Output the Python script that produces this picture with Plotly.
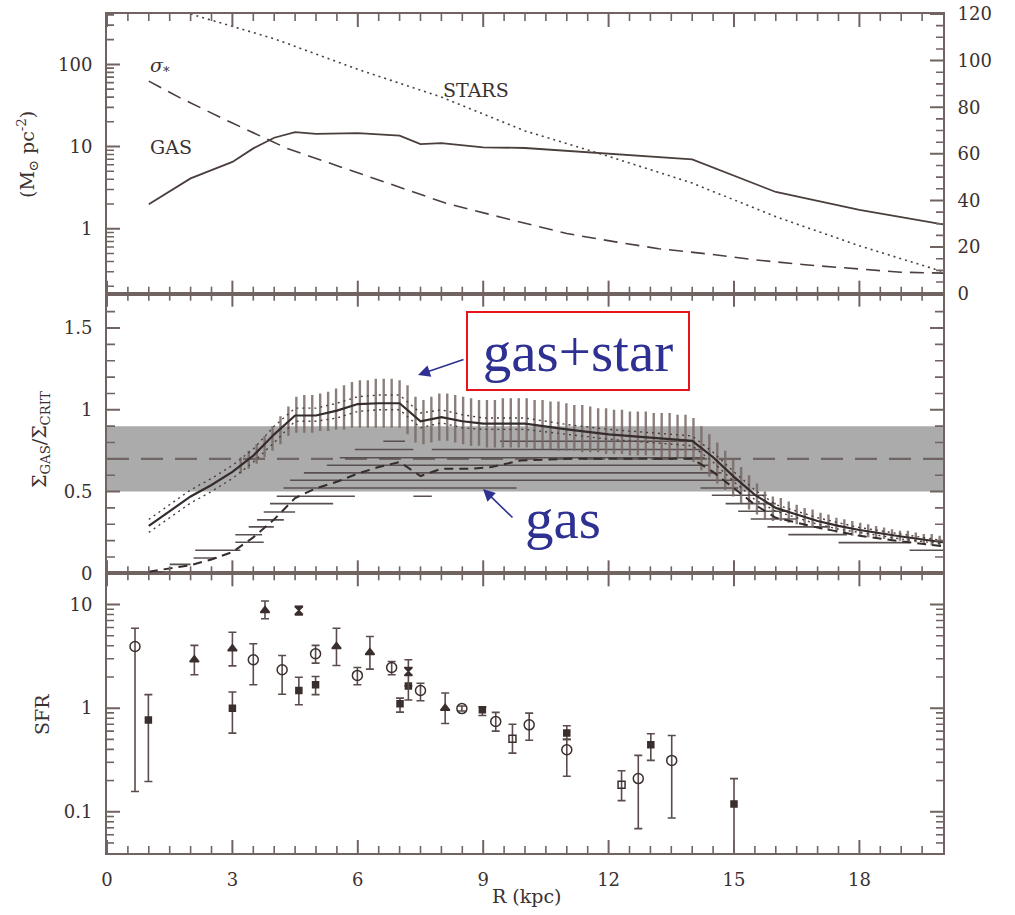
import plotly.graph_objects as go
import numpy as np

# ---------------- top panel ----------------
# gas surface density (Msun pc^-2, left log axis)
gas_r = [1.0, 2.0, 3.0, 3.5, 4.0, 4.5, 5.0, 6.0, 7.0, 7.5, 8.0, 9.0, 10.0, 12.0, 14.0, 16.0, 18.0, 20.0]
gas_sd = [1.98, 4.1, 6.5, 9.5, 12.8, 15.0, 14.3, 14.6, 13.6, 10.7, 11.0, 9.8, 9.6, 8.2, 7.0, 2.8, 1.7, 1.13]
# stellar surface density (left log axis)
stars_r = [2.0, 4.0, 6.0, 8.0, 10.0, 12.0, 14.0, 16.0, 18.0, 20.0]
stars_sd = [410, 205, 87, 40, 15.5, 7.6, 3.6, 1.4, 0.62, 0.30]
# stellar velocity dispersion (km/s, right linear axis)
sigma_r = [1.0, 1.75, 3.0, 4.3, 5.57, 6.85, 8.13, 9.4, 11.0, 12.2, 13.2, 14.35, 15.5, 16.7, 17.9, 19.0, 20.0]
sigma_v = [91.2, 84.0, 73.2, 62.4, 54.5, 46.6, 38.7, 32.9, 25.8, 22.1, 19.3, 17.1, 14.5, 12.4, 10.7, 9.2, 8.8]

# ---------------- middle panel ----------------
# gas+star stability ratio with its dotted envelope
q_r = [1.0, 1.5, 2.0, 2.5, 3.0, 3.5, 4.0, 4.5, 5.0, 5.5, 6.0, 6.5, 7.0, 7.5, 8.0, 8.5, 9.0, 10.0,
       11.0, 12.0, 13.0, 14.0, 14.5, 15.0, 15.5, 16.0, 16.5, 17.0, 17.5, 18.0, 19.0, 20.0]
q_tot = [0.29, 0.38, 0.47, 0.54, 0.62, 0.72, 0.85, 0.965, 0.965, 0.995, 1.035, 1.04, 1.04, 0.93, 0.955, 0.93,
         0.915, 0.915, 0.88, 0.85, 0.83, 0.81, 0.71, 0.59, 0.48, 0.40, 0.36, 0.32, 0.29, 0.265, 0.225, 0.19]
q_tot_up = [0.33, 0.42, 0.51, 0.58, 0.66, 0.76, 0.90, 1.01, 1.01, 1.04, 1.08, 1.09, 1.09, 0.98, 1.00, 0.97,
            0.95, 0.95, 0.91, 0.88, 0.86, 0.84, 0.74, 0.62, 0.51, 0.42, 0.38, 0.34, 0.31, 0.28, 0.24, 0.20]
q_tot_dn = [0.25, 0.34, 0.43, 0.50, 0.58, 0.68, 0.80, 0.93, 0.93, 0.95, 0.99, 1.00, 1.00, 0.89, 0.92, 0.89,
            0.88, 0.88, 0.85, 0.82, 0.80, 0.78, 0.68, 0.56, 0.45, 0.38, 0.34, 0.30, 0.27, 0.25, 0.21, 0.18]
# gas-only stability ratio
qg_r = [1.0, 1.5, 2.0, 2.5, 3.0, 3.5, 4.0, 4.5, 5.0, 5.5, 6.0, 6.5, 7.0, 7.5, 8.0, 8.7, 9.2, 9.9,
        11.0, 12.0, 13.0, 14.0, 14.5, 15.0, 15.5, 16.0, 17.0, 18.0, 19.0, 20.0]
qg = [0.01, 0.03, 0.05, 0.085, 0.13, 0.22, 0.33, 0.46, 0.52, 0.56, 0.61, 0.65, 0.68, 0.595, 0.64, 0.64, 0.65, 0.69,
      0.70, 0.70, 0.70, 0.70, 0.62, 0.52, 0.42, 0.34, 0.28, 0.23, 0.195, 0.165]
# vertical uncertainty bars on the gas+star ratio
bar_r = [3.20, 3.39, 3.58, 3.77, 3.96, 4.15, 4.34, 4.53, 4.72, 4.91, 5.10, 5.29, 5.48, 5.67, 5.86, 6.05,
         6.24, 6.43, 6.62, 6.81, 7.00, 7.19, 7.38, 7.57, 7.76, 7.95, 8.14, 8.33, 8.52, 8.71, 8.90, 9.09,
         9.28, 9.47, 9.66, 9.85, 10.04, 10.23, 10.42, 10.61, 10.80, 10.99, 11.18, 11.37, 11.56, 11.75,
         11.94, 12.13, 12.32, 12.51, 12.70, 12.89, 13.08, 13.27, 13.46, 13.65, 13.84, 14.03, 14.22, 14.41,
         14.60, 14.79, 14.98, 15.17, 15.36, 15.55, 15.74, 15.93, 16.12, 16.31, 16.50, 16.69, 16.88, 17.07,
         17.26, 17.45, 17.64, 17.83, 18.02, 18.21, 18.40, 18.59, 18.78, 18.97, 19.16, 19.35, 19.54, 19.73, 19.92]
bar_top = [0.71, 0.75, 0.79, 0.84, 0.90, 0.96, 1.02, 1.08, 1.09, 1.09, 1.10, 1.11, 1.13, 1.15, 1.17, 1.18,
           1.18, 1.19, 1.19, 1.19, 1.18, 1.15, 1.08, 1.06, 1.08, 1.10, 1.10, 1.09, 1.08, 1.07, 1.06, 1.06,
           1.06, 1.07, 1.07, 1.07, 1.07, 1.06, 1.06, 1.05, 1.05, 1.04, 1.03, 1.03, 1.02, 1.01,
           1.01, 1.00, 1.00, 0.99, 0.99, 0.99, 0.98, 0.98, 0.98, 0.97, 0.97, 0.95, 0.90, 0.85,
           0.80, 0.75, 0.70, 0.65, 0.60, 0.55, 0.50, 0.47, 0.46, 0.44, 0.42, 0.40, 0.39, 0.37,
           0.36, 0.34, 0.33, 0.32, 0.31, 0.30, 0.29, 0.28, 0.27, 0.26, 0.26, 0.25, 0.24, 0.24, 0.23]
bar_bot = [0.61, 0.64, 0.67, 0.71, 0.75, 0.79, 0.84, 0.86, 0.86, 0.86, 0.87, 0.87, 0.88, 0.88, 0.89, 0.89,
           0.89, 0.89, 0.89, 0.89, 0.89, 0.85, 0.80, 0.79, 0.80, 0.81, 0.81, 0.80, 0.79, 0.78, 0.78, 0.77,
           0.77, 0.77, 0.77, 0.77, 0.77, 0.76, 0.76, 0.76, 0.75, 0.75, 0.75, 0.74, 0.74, 0.74,
           0.73, 0.73, 0.73, 0.72, 0.72, 0.72, 0.72, 0.71, 0.71, 0.71, 0.70, 0.68, 0.63, 0.59,
           0.55, 0.51, 0.47, 0.43, 0.39, 0.36, 0.33, 0.32, 0.32, 0.31, 0.30, 0.29, 0.28, 0.27,
           0.26, 0.25, 0.24, 0.23, 0.23, 0.22, 0.22, 0.21, 0.21, 0.20, 0.19, 0.19, 0.18, 0.17, 0.17]
# horizontal (radial-bin) bars on the gas ratio: level, start radius, end radius
seg_q = [0.01, 0.055, 0.094, 0.141, 0.19, 0.236, 0.284, 0.327, 0.375, 0.426, 0.471, 0.471, 0.522, 0.569,
         0.614, 0.661, 0.707, 0.757, 0.757, 0.808, 0.808, 0.522, 0.477, 0.426, 0.38, 0.332, 0.284,
         0.237, 0.188, 0.141]
seg_r0 = [1.0, 1.5, 2.07, 2.11, 3.07, 3.07, 3.39, 3.59, 3.75, 3.9, 4.06, 7.33, 4.22, 4.38,
          4.71, 5.26, 5.57, 5.93, 7.77, 6.61, 9.4, 14.2, 14.47, 14.8, 15.1, 15.4, 15.8,
          16.3, 17.5, 19.2]
seg_r1 = [1.35, 2.0, 2.63, 3.19, 3.75, 3.71, 3.99, 4.23, 4.5, 5.41, 5.93, 7.77, 9.8, 15.1,
          14.7, 14.4, 14.3, 7.33, 14.2, 7.13, 14.07, 15.1, 15.78, 16.0, 16.3, 16.5, 17.3,
          17.7, 19.2, 20.0]
band_lo, band_mid, band_hi = 0.5, 0.7, 0.9

# ---------------- bottom panel: star formation rate ----------------
circ_r = [0.67, 3.5, 4.19, 4.99, 5.99, 6.81, 7.5, 8.49, 9.3, 10.1, 11.0, 12.71, 13.51]
circ_v = [3.94, 2.93, 2.35, 3.35, 2.07, 2.47, 1.48, 0.99, 0.744, 0.69, 0.397, 0.209, 0.313]
circ_hi = [5.9, 4.18, 3.22, 4.03, 2.47, 2.82, 1.74, 1.05, 0.91, 0.895, 0.5, 0.35, 0.545]
circ_lo = [0.157, 1.68, 1.36, 2.72, 1.68, 2.1, 1.18, 0.94, 0.6, 0.49, 0.22, 0.0687, 0.087]

sq_r = [0.99, 3.0, 4.59, 4.99, 7.01, 7.21, 8.98, 11.0, 13.01, 15.0]
sq_v = [0.77, 1.0, 1.48, 1.68, 1.1, 1.64, 0.965, 0.574, 0.443, 0.119]
sq_hi = [1.35, 1.43, 1.99, 2.02, 1.25, 1.64, 1.03, 0.676, 0.566, 0.209]
sq_lo = [0.196, 0.574, 1.08, 1.35, 0.915, 1.64, 0.85, 0.5, 0.313, 0.03]

osq_r = [9.7, 12.31]
osq_v = [0.507, 0.182]
osq_hi = [0.7, 0.249]
osq_lo = [0.368, 0.128]

tri_r = [2.09, 3.0, 3.78, 5.49, 6.29, 8.09]
tri_v = [2.93, 3.74, 8.75, 3.94, 3.44, 1.0]
tri_hi = [4.03, 5.4, 10.8, 5.9, 4.91, 1.4]
tri_lo = [2.1, 2.56, 7.28, 2.58, 2.38, 0.71]

hg_r = [4.59, 7.21]
hg_v = [8.75, 2.26]
hg_hi = [9.6, 2.93]
hg_lo = [7.95, 1.2]

# tick positions: labelled values and unlabelled intermediate marks
r_major = [0, 3, 6, 9, 12, 15, 18]
r_minor = [0.5, 1, 1.5, 2, 2.5, 3.5, 4, 4.5, 5, 5.5, 6.5, 7, 7.5, 8, 8.5, 9.5, 10, 10.5, 11, 11.5,
           12.5, 13, 13.5, 14, 14.5, 15.5, 16, 16.5, 17, 17.5, 18.5, 19, 19.5]
sfr_major = [0.1, 1, 10]
sfr_minor = [0.05, 0.06, 0.07, 0.08, 0.09, 0.2, 0.3, 0.4, 0.5, 0.6, 0.7, 0.8, 0.9, 2, 3, 4, 5, 6, 7, 8, 9]
q_major = [0, 0.5, 1, 1.5]
q_minor = [0.1, 0.2, 0.3, 0.4, 0.6, 0.7, 0.8, 0.9, 1.1, 1.2, 1.3, 1.4, 1.6, 1.7]
sd_major = [1, 10, 100]
sd_minor = [0.2, 0.3, 0.4, 0.5, 0.6, 0.7, 0.8, 0.9, 2, 3, 4, 5, 6, 7, 8, 9, 20, 30, 40, 50, 60, 70,
            80, 90, 200, 300, 400]
v_major = [0, 20, 40, 60, 80, 100, 120]
v_minor = [5, 10, 15, 25, 30, 35, 45, 50, 55, 65, 70, 75, 85, 90, 95, 105, 110, 115]


def fmt(v):
    return "{:g}".format(v)


def labels(major, prefix="", suffix=""):
    return dict(tickmode="array", tickvals=list(major),
                ticktext=[prefix + fmt(v) + suffix for v in major])


FONT = "DejaVu Serif"
FRAME = "#716361"
INK = "#3b3130"
LINE = "#4a3f3d"
BAR = "rgba(120,104,100,0.85)"
NAVY = "#2e3192"

fig = go.Figure()

# top panel traces
fig.add_trace(go.Scatter(x=stars_r, y=stars_sd, mode="lines", xaxis="x3", yaxis="y3",
                         line=dict(color=LINE, width=1.6, dash="2px,4px")))
fig.add_trace(go.Scatter(x=gas_r, y=gas_sd, mode="lines", xaxis="x3", yaxis="y3",
                         line=dict(color=LINE, width=1.8)))
fig.add_trace(go.Scatter(x=sigma_r, y=sigma_v, mode="lines", xaxis="x3", yaxis="y4",
                         line=dict(color=LINE, width=1.6, dash="14px,8px")))

# middle panel: shaded band and its centre line
fig.add_shape(type="rect", xref="x2", yref="y2", x0=0, x1=20, y0=band_lo, y1=band_hi,
              fillcolor="#ababab", line_width=0, layer="below")
fig.add_trace(go.Scatter(x=[0, 20], y=[band_mid, band_mid], mode="lines", xaxis="x2", yaxis="y2",
                         line=dict(color="#6f6564", width=2.2, dash="22px,12px")))

# horizontal bars of the gas ratio
hx, hy = [], []
for q, a, b in zip(seg_q, seg_r0, seg_r1):
    hx += [a, b, None]
    hy += [q, q, None]
fig.add_trace(go.Scatter(x=hx, y=hy, mode="lines", xaxis="x2", yaxis="y2",
                         line=dict(color="#585050", width=1.6)))

# vertical bars of the gas+star ratio
vx, vy = [], []
for r, t, b in zip(bar_r, bar_top, bar_bot):
    vx += [r, r, None]
    vy += [b, t, None]
fig.add_trace(go.Scatter(x=vx, y=vy, mode="lines", xaxis="x2", yaxis="y2",
                         line=dict(color=BAR, width=2.4)))

fig.add_trace(go.Scatter(x=q_r, y=q_tot_up, mode="lines", xaxis="x2", yaxis="y2",
                         line=dict(color=LINE, width=1.4, dash="2px,4px")))
fig.add_trace(go.Scatter(x=q_r, y=q_tot_dn, mode="lines", xaxis="x2", yaxis="y2",
                         line=dict(color=LINE, width=1.4, dash="2px,4px")))
fig.add_trace(go.Scatter(x=q_r, y=q_tot, mode="lines", xaxis="x2", yaxis="y2",
                         line=dict(color="#352c2b", width=2.2)))
fig.add_trace(go.Scatter(x=qg_r, y=qg, mode="lines", xaxis="x2", yaxis="y2",
                         line=dict(color="#352c2b", width=2.0, dash="9px,6px")))


# bottom panel: SFR points with asymmetric error bars
def sfr_trace(r, v, hi, lo, symbol, size):
    err = dict(type="data", symmetric=False,
               array=[h - c for h, c in zip(hi, v)],
               arrayminus=[c - l for c, l in zip(v, lo)],
               color="#5a4c4a", thickness=1.6, width=4)
    return go.Scatter(x=r, y=v, mode="markers", xaxis="x", yaxis="y", error_y=err,
                      marker=dict(symbol=symbol, size=size, color="#3a2f2e",
                                  line=dict(color="#3a2f2e", width=1.5)))


fig.add_trace(sfr_trace(circ_r, circ_v, circ_hi, circ_lo, "circle-open", 10))
fig.add_trace(sfr_trace(sq_r, sq_v, sq_hi, sq_lo, "square", 6))
fig.add_trace(sfr_trace(osq_r, osq_v, osq_hi, osq_lo, "square-open", 7))
fig.add_trace(sfr_trace(tri_r, tri_v, tri_hi, tri_lo, "triangle-up", 8))
fig.add_trace(sfr_trace(hg_r, hg_v, hg_hi, hg_lo, "hourglass", 8))

# inward tick marks, placed on each axis' own scale and sized in panel-domain units
PANEL_H, PANEL_W = 279.7, 836.0
MAJ_LEN, MIN_LEN = 13.0, 7.0
tick_shapes = []


def tick(xref, yref, x0, x1, y0, y1, width):
    tick_shapes.append(dict(type="line", xref=xref, yref=yref, x0=x0, x1=x1, y0=y0, y1=y1,
                            line=dict(color=FRAME, width=width), layer="above"))


for xa, ya in [("x", "y"), ("x2", "y2"), ("x3", "y3")]:
    for vals, ln, w in [(r_major, MAJ_LEN, 2.0), (r_minor, MIN_LEN, 1.6)]:
        f = ln / PANEL_H
        for v in vals:
            tick(xa, ya + " domain", v, v, 0, f, w)
            tick(xa, ya + " domain", v, v, 1 - f, 1, w)

for xa, ya, major, minor, mirrored in [("x", "y", sfr_major, sfr_minor, True),
                                       ("x2", "y2", q_major, q_minor, True),
                                       ("x3", "y3", sd_major, sd_minor, False)]:
    for vals, ln, w in [(major, MAJ_LEN, 2.0), (minor, MIN_LEN if ya != "y2" else 8.0, 1.6)]:
        f = ln / PANEL_W
        for v in vals:
            tick(xa + " domain", ya, 0, f, v, v, w)
            if mirrored:
                tick(xa + " domain", ya, 1 - f, 1, v, v, w)

for vals, ln, w in [(v_major, MAJ_LEN, 2.0), (v_minor, MIN_LEN, 1.6)]:
    f = ln / PANEL_W
    for v in vals:
        tick("x3 domain", "y4", 1 - f, 1, v, v, w)

tickfont = dict(family=FONT, size=18, color=INK)
base = dict(showline=True, linecolor=FRAME, linewidth=2, ticks="", showgrid=False,
            zeroline=False, tickfont=tickfont)
xbase = dict(base, range=[0, 20], mirror=True, **labels(r_major))

fig.update_layout(
    width=1015, height=915,
    margin=dict(l=107, r=72, t=14, b=62, autoexpand=False),
    paper_bgcolor="white", plot_bgcolor="white",
    showlegend=False,
    xaxis=dict(xbase, anchor="y", domain=[0, 1], ticklabelstandoff=9),
    xaxis2=dict(xbase, anchor="y2", domain=[0, 1], showticklabels=False),
    xaxis3=dict(xbase, anchor="y3", domain=[0, 1], showticklabels=False),
    yaxis=dict(base, type="log", domain=[0, 1 / 3], anchor="x",
               range=[np.log10(0.04), np.log10(20)], mirror=True,
               **labels(sfr_major, suffix="\u2002")),
    yaxis2=dict(base, domain=[1 / 3, 2 / 3], anchor="x2", range=[0, 1.71], mirror=True,
                **labels(q_major, suffix="\u2002")),
    yaxis3=dict(base, type="log", domain=[2 / 3, 1], anchor="x3", range=[-0.79, 2.613],
                mirror=True, **labels(sd_major, suffix="\u2002")),
    yaxis4=dict(base, overlaying="y3", side="right", anchor="x3", range=[0, 120],
                **labels(v_major, prefix="\u2002")),
    shapes=list(fig.layout.shapes) + tick_shapes,
)


def px(xp):
    return (xp - 107) / 836


def py(yp):
    return (853 - yp) / 839


label = dict(family=FONT, size=19, color=INK)
mid = dict(xanchor="center", yanchor="middle", showarrow=False)
notes = [
    dict(x=0.98, y=1.98, xref="x3", yref="y3", text="<i>σ</i><sub>*</sub>", xanchor="left",
         yanchor="middle", showarrow=False, font=label),
    dict(x=0.98, y=1.0, xref="x3", yref="y3", text="GAS", xanchor="left", yanchor="middle",
         showarrow=False, font=label),
    dict(x=7.99, y=1.687, xref="x3", yref="y3", text="STARS", xanchor="left", yanchor="middle",
         showarrow=False, font=label),
    dict(mid, x=px(28), y=py(155), xref="paper", yref="paper", text="(M<sub>⊙</sub> pc<sup>-2</sup>)",
         textangle=-90, font=label),
    dict(mid, x=px(40), y=py(440), xref="paper", yref="paper",
         text="Σ<sub>GAS</sub>/Σ<sub>CRIT</sub>", textangle=-90, font=label),
    dict(mid, x=px(42), y=py(715), xref="paper", yref="paper", text="SFR", textangle=-90, font=label),
    dict(mid, x=px(527), y=py(896), xref="paper", yref="paper", text="R (kpc)", font=label),
    # callouts
    dict(mid, x=px(578), y=py(351), xref="paper", yref="paper", text="gas+star",
         font=dict(family="Liberation Serif", size=57, color=NAVY),
         bordercolor="#e8141b", borderwidth=2, borderpad=0, width=220, height=76, bgcolor="white"),
    dict(mid, x=px(563), y=py(518), xref="paper", yref="paper", text="gas",
         font=dict(family="Liberation Serif", size=57, color=NAVY)),
    dict(x=px(418), y=py(375), xref="paper", yref="paper", text="", showarrow=True, ax=47, ay=-16,
         arrowhead=2, arrowsize=1.5, arrowwidth=1.6, arrowcolor=NAVY),
    dict(x=px(483), y=py(489), xref="paper", yref="paper", text="", showarrow=True, ax=31, ay=30,
         arrowhead=2, arrowsize=1.5, arrowwidth=1.6, arrowcolor=NAVY),
]
fig.update_layout(annotations=notes)

fig.write_html("out.html")
